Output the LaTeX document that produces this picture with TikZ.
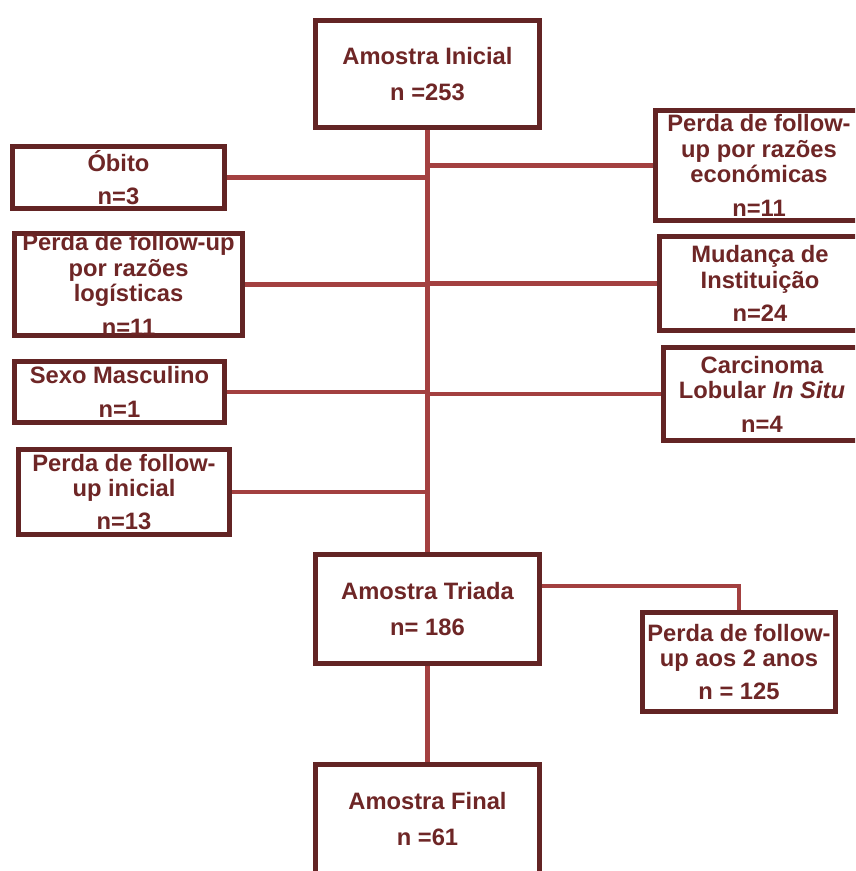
\documentclass[tikz,border=0pt]{standalone}
\usepackage{fontspec}
\setmainfont{Liberation Sans}
\usetikzlibrary{positioning,backgrounds}
\definecolor{boxred}{RGB}{99,36,36}
\definecolor{linered}{RGB}{163,64,64}
\definecolor{textred}{RGB}{110,38,38}

\begin{document}
\begin{tikzpicture}[
    box/.style={
        draw=boxred,
        line width=2.6pt,
        fill=white,
        align=center,
        text=textred,
        font=\fontsize{13.5}{14.5}\selectfont\bfseries,
        inner xsep=2pt,
        inner ysep=0pt
    },
    conn/.style={
        linered,
        line width=2.6pt
    }
]

\useasboundingbox (0,0) rectangle (17.1,-17.42);
\clip (0,0) rectangle (17.1,-17.42);

% ============================================================
% MAIN COLUMN
% ============================================================

\node[box, minimum width=4.48cm, minimum height=2.14cm] (inicial) at (8.55,-1.48)
{Amostra Inicial\\[6pt]
n =253};

\node[box, minimum width=4.48cm, minimum height=2.18cm] (triada) at (8.55,-12.18)
{Amostra Triada\\[6pt]
n= 186};

\node[box, minimum width=4.48cm, minimum height=2.18cm] (final) at (8.55,-16.38)
{Amostra Final\\[6pt]
n =61};

% ============================================================
% EXCLUSIONS — LEFT
% ============================================================

\node[box, minimum width=4.24cm, minimum height=1.24cm] (obito) at (2.37,-3.55)
{Óbito\\[4.5pt]
n=3};

\node[box, minimum width=4.56cm, minimum height=1.96cm] (logistica) at (2.57,-5.69)
{Perda de follow-up\\
por razões\\
logísticas\\[4.5pt]
n=11};

\node[box, minimum width=4.20cm, minimum height=1.22cm] (sexo) at (2.39,-7.84)
{Sexo Masculino\\[4.5pt]
n=1};

\node[box, minimum width=4.22cm, minimum height=1.70cm] (perdainicial) at (2.48,-9.84)
{Perda de follow-\\
up inicial\\[4.5pt]
n=13};

% ============================================================
% EXCLUSIONS — RIGHT
% ============================================================

\node[box, minimum width=4.14cm, minimum height=2.20cm] (economica) at (15.18,-3.31)
{Perda de follow-\\
up por razões\\
económicas\\[4.5pt]
n=11};

\node[box, minimum width=4.02cm, minimum height=1.88cm] (mudanca) at (15.20,-5.67)
{Mudança de\\
Instituição\\[4.5pt]
n=24};

\node[box, minimum width=3.94cm, minimum height=1.86cm] (carcinoma) at (15.24,-7.88)
{Carcinoma\\
Lobular \textit{In Situ}\\[4.5pt]
n=4};

\node[box, minimum width=3.86cm, minimum height=1.98cm] (perda2anos) at (14.78,-13.24)
{Perda de follow-\\
up aos 2 anos\\[4.5pt]
n = 125};

% ============================================================
% CONNECTORS — behind the boxes
% ============================================================

\begin{scope}[on background layer]
% Trunk
\draw[conn] (inicial.center) -- (triada.center);
\draw[conn] (triada.center) -- (final.center);

% Branches
\draw[conn] (obito.center) -- (obito.center -| inicial.center);
\draw[conn] (logistica.center) -- (logistica.center -| inicial.center);
\draw[conn] (sexo.center) -- (sexo.center -| inicial.center);
\draw[conn] (perdainicial.center) -- (perdainicial.center -| inicial.center);
\draw[conn] (economica.center) -- (economica.center -| inicial.center);
\draw[conn] (mudanca.center) -- (mudanca.center -| inicial.center);
\draw[conn] (carcinoma.center) -- (carcinoma.center -| inicial.center);
\draw[conn] ([yshift=0.46cm]triada.center) -| (perda2anos.center);
\end{scope}

\end{tikzpicture}
\end{document}
